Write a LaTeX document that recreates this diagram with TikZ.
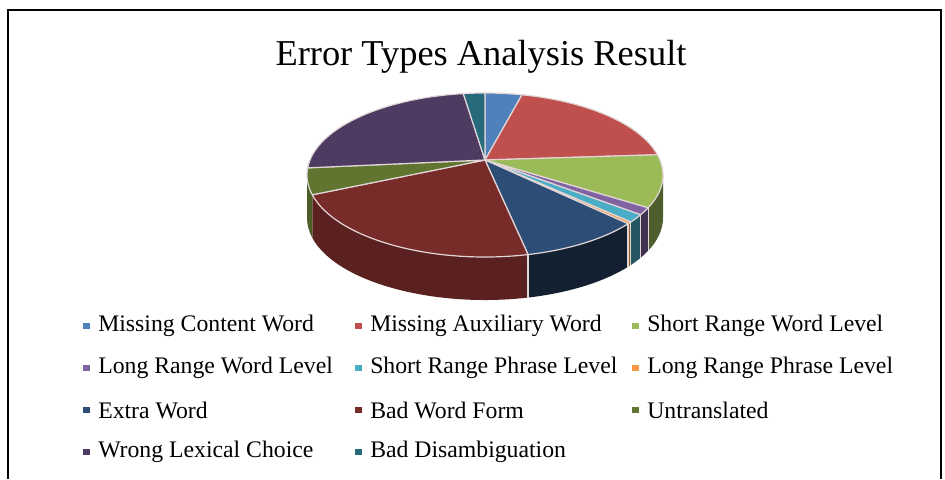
\documentclass[tikz,border=0pt]{standalone}
\usepackage{fontspec}
\setmainfont{Liberation Serif}
\usetikzlibrary{calc,positioning}

\definecolor{mcw}{HTML}{4F81BD}
\definecolor{maw}{HTML}{C0504D}
\definecolor{srwl}{HTML}{9BBB59}
\definecolor{lrwl}{HTML}{8064A2}
\definecolor{srpl}{HTML}{4BACC6}
\definecolor{lrpl}{HTML}{F79646}
\definecolor{ew}{HTML}{2C4D75}
\definecolor{bwf}{HTML}{772C2A}
\definecolor{ut}{HTML}{5F7530}
\definecolor{wlc}{HTML}{4D3B62}
\definecolor{bd}{HTML}{276A7C}
\definecolor{rimcol}{RGB}{226,214,214}

\tikzset{
  rim/.style={draw=rimcol,line width=0.9pt,line join=round},
  legtxt/.style={anchor=west,inner sep=0pt,font=\fontsize{17.8}{20}\selectfont},
  legbox/.style={fill=#1,minimum size=5pt,inner sep=0pt}
}

\begin{document}
\begin{tikzpicture}[x=0.75pt,y=0.75pt]
\useasboundingbox (0,0) rectangle (945,479);
\draw[line width=1.5pt] (8,0) -- (8,469) -- (941,469) -- (941,0);
\node[font=\fontsize{27.3}{32}\selectfont,anchor=base,inner sep=0pt] (title) at (481,413) {Error Types Analysis Result};

% pie: centre of the top face and the point where the slices meet
\coordinate (C) at (485,304);
\coordinate (A) at (485,319);

% side wall
\foreach \a/\b/\c/\k in {0/-23.6/srwl/50, -23.6/-29/lrwl/50, -29/-35/srpl/50,
    -35/-36.5/lrpl/60, -36.5/-76/ew/42, -76/-166/bwf/76, -166/-180/ut/80}
  \fill[\c!\k!black] ($(C)+(\a:178 and 82)$) arc[start angle=\a,end angle=\b,x radius=178,y radius=82]
    -- ++(0,-43) arc[start angle=\b,end angle=\a,x radius=178,y radius=82] -- cycle;
\foreach \a in {-23.6,-29,-35,-36.5,-76}
  \draw[rim] ($(C)+(\a:178 and 82)$) -- ++(0,-43);

% top face
\foreach \a/\b/\c in {90/78/mcw, 78/14.3/maw, 14.3/-23.6/srwl, -23.6/-29/lrwl,
    -29/-35/srpl, -35/-36.5/lrpl, -36.5/-76/ew, -76/-166/bwf, -166/-185/ut,
    175/97/wlc, 97/90/bd}
  \filldraw[rim,fill=\c] (A) -- ($(C)+(\a:178 and 82)$)
    arc[start angle=\a,end angle=\b,x radius=178,y radius=82] -- cycle;

% legend
\node[legtxt] (l1) at (98,153) {Missing Content Word};
\node[legtxt] (l2) at (370,153) {Missing Auxiliary Word};
\node[legtxt] (l3) at (647,153) {Short Range Word Level};
\node[legtxt] (l4) at (98,111) {Long Range Word Level};
\node[legtxt] (l5) at (370,111) {Short Range Phrase Level};
\node[legtxt] (l6) at (647,111) {Long Range Phrase Level};
\node[legtxt] (l7) at (98,69) {Extra Word};
\node[legtxt] (l8) at (370,69) {Bad Word Form};
\node[legtxt] (l9) at (647,69) {Untranslated};
\node[legtxt] (l10) at (98,27) {Wrong Lexical Choice};
\node[legtxt] (l11) at (370,27) {Bad Disambiguation};

\foreach \n/\c in {1/mcw,2/maw,3/srwl,4/lrwl,5/srpl,6/lrpl,7/ew,8/bwf,9/ut,10/wlc,11/bd}
  \node[legbox=\c,left=6pt of l\n] (b\n) {};

\end{tikzpicture}
\end{document}
